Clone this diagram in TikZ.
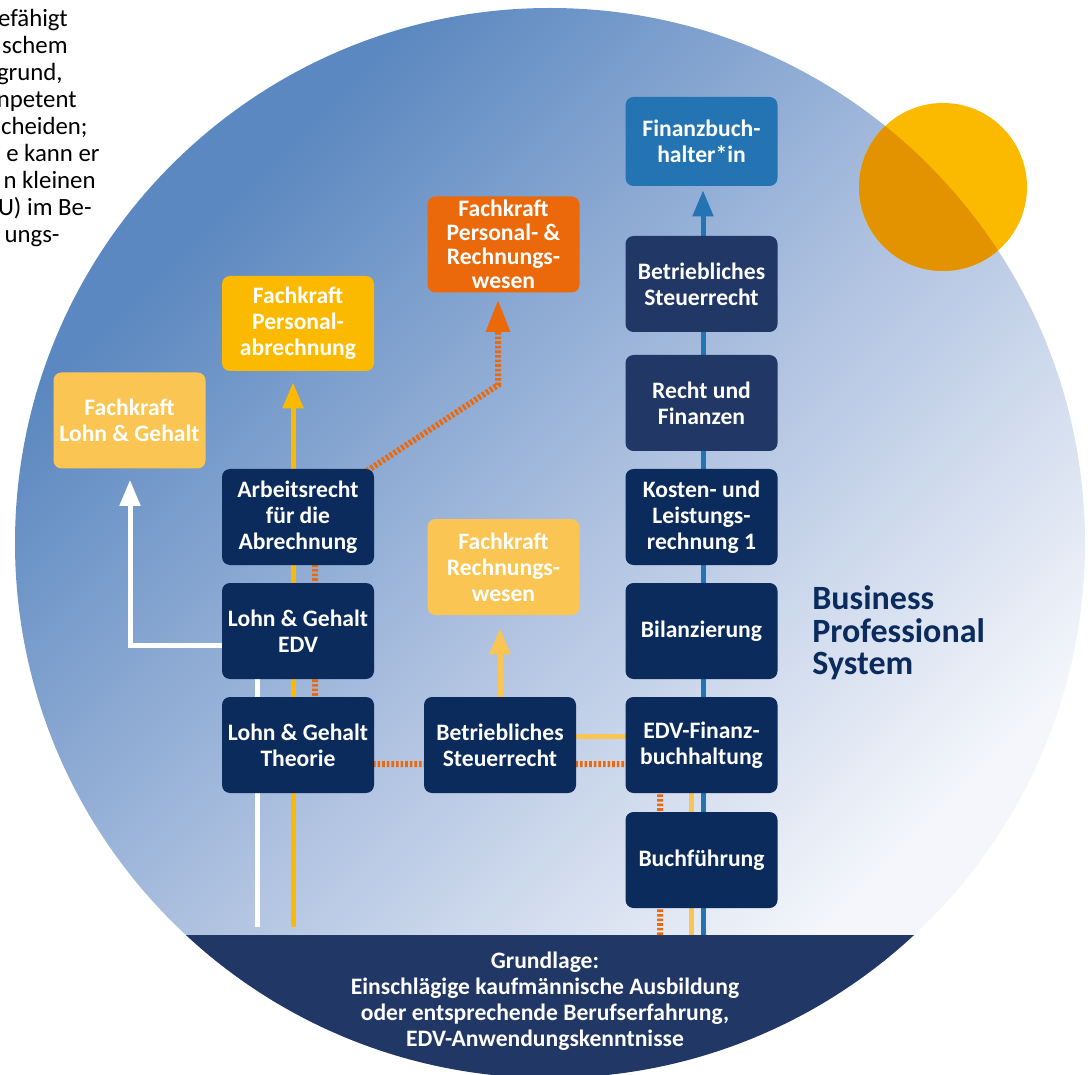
\documentclass[tikz,border=0pt]{standalone}
\usepackage{fontspec}
\setmainfont{Carlito}
\usetikzlibrary{arrows.meta}
\pgfdeclarelayer{back}
\pgfdeclarelayer{wires}
\pgfsetlayers{back,wires,main}

\definecolor{navy}{HTML}{0B2B5C}
\definecolor{slate}{HTML}{213766}
\definecolor{petrol}{HTML}{2474B3}
\definecolor{amber}{HTML}{FBB900}
\definecolor{sand}{HTML}{FAC552}
\definecolor{rust}{HTML}{EB690B}
\definecolor{sunshade}{HTML}{E39200}
\definecolor{skytop}{HTML}{5B88C0}
\definecolor{skymid}{HTML}{ABBFDF}
\definecolor{skylow}{HTML}{F4F6FB}

% disc colour, light at 0bp, dark at 100bp
\pgfdeclareverticalshading{sky}{100bp}{color(0bp)=(skylow); color(28bp)=(skylow);
  color(50bp)=(skymid); color(72bp)=(skytop); color(100bp)=(skytop)}

\newcommand{\boxfont}{\fontsize{11.8}{13}\selectfont\bfseries}
\newcommand{\fragfont}{\fontsize{12.4}{13.5}\selectfont}

\tikzset{
  course/.style={rounded corners=4pt, fill=navy, text=white, font=\boxfont,
    align=center, minimum width=76pt, minimum height=48pt, inner sep=1pt},
  goal/.style={course, fill=#1},
  wline/.style={line width=2.5pt},
  dotline/.style={rust, line width=3pt, dash pattern=on 1.3pt off 1pt},
  tip/.style={-{Triangle[width=10pt,length=13pt]}}
}

\begin{document}
\begin{tikzpicture}[x=0.5pt, y=-0.5pt]
\useasboundingbox (0,0) rectangle (1088,1075);

\coordinate (M) at (550,543);
\coordinate (S) at (943,187);

\begin{pgfonlayer}{back}
\shade[shading=sky, shading angle=45] (M) circle[radius=535];
\begin{scope}
  \clip (0,935) rectangle (1088,1100);
  \fill[slate] (M) circle[radius=535];
\end{scope}
% sun, darker where it lies on the disc
\fill[amber] (S) circle[radius=84];
\begin{scope}
  \clip (M) circle[radius=535];
  \fill[sunshade] (S) circle[radius=84];
\end{scope}
\end{pgfonlayer}

% text running in from the left
\foreach \fx/\fy/\ft [count=\i] in {28/0/und, 68/27/efähigt, 68/54/schem,
    63/81/{grund,}, 77/108/npetent, 88/135/{cheiden;}, 100/162/e kann er,
    96/189/n kleinen, 92/216/{U) im Be-}, 60/243/ungs-}
  \node[anchor=base east, inner sep=0pt, font=\fragfont] (frag\i) at (\fx,\fy) {\ft};

% finance column
\node[goal=petrol, minimum height=44.5pt] (fbh) at (701.5,141.5) {Finanzbuch-\\halter*in};
\node[course, fill=slate] (bst) at (701.5,284) {Betriebliches\\Steuerrecht};
\node[course, fill=slate] (ruf) at (701.5,403) {Recht und\\Finanzen};
\node[course] (kul) at (701.5,517) {Kosten- und\\Leistungs-\\rechnung 1};
\node[course] (bil) at (701.5,631) {Bilanzierung};
\node[course] (edvf) at (701.5,745) {EDV-Finanz-\\buchhaltung};
\node[course] (bf) at (701.5,860) {Buchführung};

% middle column
\node[goal=rust, font=\fontsize{11.8}{12}\selectfont\bfseries] (fkprw) at (503.5,244.5)
  {Fachkraft\\Personal- \&\\Rechnungs-\\wesen};
\node[goal=sand] (fkrw) at (503.5,567) {Fachkraft\\Rechnungs-\\wesen};
\node[course] (bstm) at (500,745) {Betriebliches\\Steuerrecht};

% payroll column
\node[goal=amber, minimum height=47.5pt] (fkpa) at (298,323.5) {Fachkraft\\Personal-\\abrechnung};
\node[course] (arb) at (298,517) {Arbeitsrecht\\für die\\Abrechnung};
\node[course] (lgedv) at (298,631) {Lohn \& Gehalt\\EDV};
\node[course] (lgth) at (298,745) {Lohn \& Gehalt\\Theorie};
\node[goal=sand] (fklg) at (129.5,420.5) {Fachkraft\\Lohn \& Gehalt};

\node[anchor=west, align=left, inner sep=0pt, text=navy,
  font=\fontsize{17}{16.25}\selectfont\bfseries] (bps) at (812,633)
  {Business\\Professional\\System};

\node[align=center, text=white, font=\boxfont] (base) at (545,1001)
  {Grundlage:\\Einschlägige kaufmännische Ausbildung\\oder entsprechende Berufserfahrung,\\EDV-Anwendungskenntnisse};

% tracks
\coordinate (wstart) at (257,927);
\coordinate (wturn) at (130,645);
\coordinate (ystart) at (293,927);
\coordinate (ostart) at (660,935);
\coordinate (oturn) at (660,764);
\coordinate (oleft) at (315,764);
\coordinate (obend) at (315,505);
\coordinate (oknee) at (498,385);
\coordinate (sstart) at (691,935);
\coordinate (sturn) at (691,736);
\coordinate (sleft) at (500,736);
\coordinate (bstart) at (703,935);

\begin{pgfonlayer}{wires}
\draw[wline, white, tip, shorten >=5.5pt] (wstart) |- (wturn) -- (wturn |- fklg.south);
\draw[wline, amber, tip, shorten >=5.5pt] (ystart) -- (ystart |- fkpa.south);
\draw[dotline, -{Triangle[width=11.5pt,length=16pt]}, shorten >=3.5pt]
  (ostart) -- (oturn) -- (oleft) -- (obend) -- (oknee) -- (oknee |- fkprw.south);
\draw[wline, sand, tip, shorten >=6.5pt] (sstart) -- (sturn) -- (sleft) -- (sleft |- fkrw.south);
\draw[wline, petrol, tip, shorten >=2pt] (bstart) -- (bstart |- fbh.south);
\end{pgfonlayer}
\end{tikzpicture}
\end{document}
